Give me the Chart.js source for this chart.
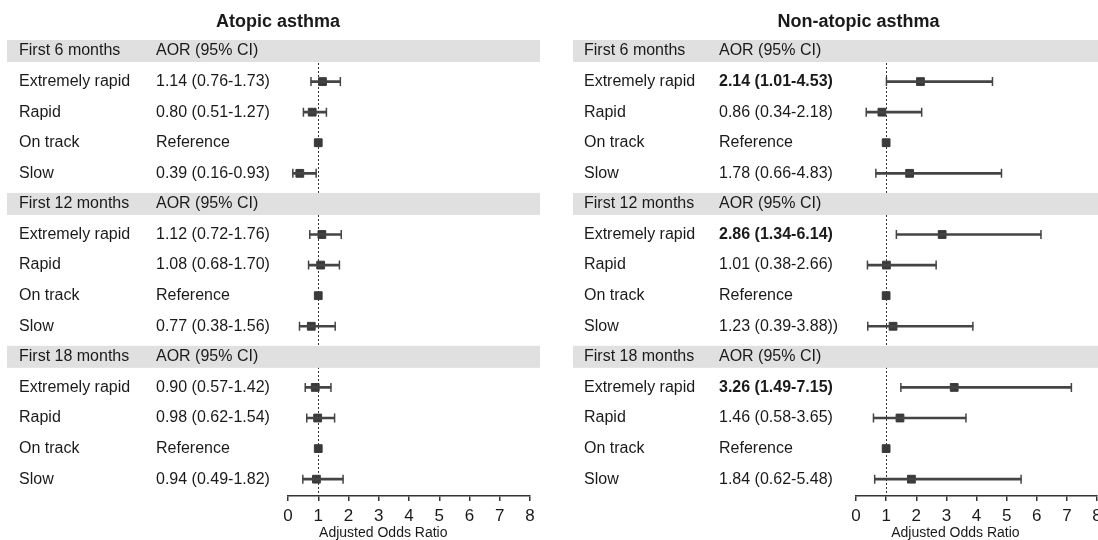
<!DOCTYPE html>
<html>
<head>
<meta charset="utf-8">
<script src="https://cdn.jsdelivr.net/npm/chart.js@4.4.0/dist/chart.umd.min.js"></script>
<style>
  html, body { margin: 0; padding: 0; background: #fff; overflow: hidden; }
  #wrap { position: relative; width: 1098px; height: 540px; overflow: hidden; }
  #atopic { position: absolute; left: 0; top: 0; }
  #nonAtopic { position: absolute; left: 549px; top: 0; }
</style>
</head>
<body>
<div id="wrap">
  <canvas id="atopic" width="549" height="540"></canvas>
  <canvas id="nonAtopic" width="595" height="540"></canvas>
</div>
<script>
const periods = ['First 6 months', 'First 12 months', 'First 18 months'];
const groups = ['Extremely rapid', 'Rapid', 'On track', 'Slow'];
const xTicks = [0, 1, 2, 3, 4, 5, 6, 7, 8];

// Atopic asthma, 6 / 12 / 18 months x 4 groups
const atopicAor  = [1.14, 0.80, 1, 0.39,  1.12, 1.08, 1, 0.77,  0.90, 0.98, 1, 0.94];
const atopicLow  = [0.76, 0.51, null, 0.16,  0.72, 0.68, null, 0.38,  0.57, 0.62, null, 0.49];
const atopicHigh = [1.73, 1.27, null, 0.93,  1.76, 1.70, null, 1.56,  1.42, 1.54, null, 1.82];
const atopicText = [
  '1.14 (0.76-1.73)', '0.80 (0.51-1.27)', 'Reference', '0.39 (0.16-0.93)',
  '1.12 (0.72-1.76)', '1.08 (0.68-1.70)', 'Reference', '0.77 (0.38-1.56)',
  '0.90 (0.57-1.42)', '0.98 (0.62-1.54)', 'Reference', '0.94 (0.49-1.82)'
];
const atopicBold = [false, false, false, false, false, false, false, false, false, false, false, false];

// Non-atopic asthma
const nonAtopicAor  = [2.14, 0.86, 1, 1.78,  2.86, 1.01, 1, 1.23,  3.26, 1.46, 1, 1.84];
const nonAtopicLow  = [1.01, 0.34, null, 0.66,  1.34, 0.38, null, 0.39,  1.49, 0.58, null, 0.62];
const nonAtopicHigh = [4.53, 2.18, null, 4.83,  6.14, 2.66, null, 3.88,  7.15, 3.65, null, 5.48];
const nonAtopicText = [
  '2.14 (1.01-4.53)', '0.86 (0.34-2.18)', 'Reference', '1.78 (0.66-4.83)',
  '2.86 (1.34-6.14)', '1.01 (0.38-2.66)', 'Reference', '1.23 (0.39-3.88))',
  '3.26 (1.49-7.15)', '1.46 (0.58-3.65)', 'Reference', '1.84 (0.62-5.48)'
];
const nonAtopicBold = [true, false, false, false, true, false, false, false, true, false, false, false];

const FONT = '"Liberation Sans", Arial, Helvetica, sans-serif';
const INK = '#1a1a1a';
const MARK = '#3a3a3a';

// row 0 = first header, then 4 groups, next header at 5 ...
function rowOf(k) {
  return Math.floor(k / 4) * 5 + 1 + (k % 4);
}

// headers, row texts, grey bands and the dotted line at 1
const forestText = {
  id: 'forestText',
  beforeDatasetsDraw(chart, args, opts) {
    const { ctx, chartArea, scales: { x, y } } = chart;
    ctx.save();

    const x1 = Math.round(x.getPixelForValue(1)) + 0.5;
    ctx.strokeStyle = '#333';
    ctx.lineWidth = 1;
    ctx.setLineDash([2, 2]);
    ctx.beginPath();
    ctx.moveTo(x1, y.getPixelForValue(0));
    ctx.lineTo(x1, chartArea.bottom);
    ctx.stroke();
    ctx.setLineDash([]);

    ctx.fillStyle = INK;
    ctx.textAlign = 'center';
    ctx.textBaseline = 'middle';
    ctx.font = 'bold 18px ' + FONT;
    ctx.fillText(opts.title, (opts.bandLeft + chart.width) / 2, 22);

    ctx.textAlign = 'left';
    periods.forEach((p, i) => {
      const yc = y.getPixelForValue(i * 5);
      ctx.fillStyle = '#e0e0e0';
      ctx.fillRect(opts.bandLeft, yc - 11, chart.width - opts.bandLeft - opts.bandRightGap, 22);
      ctx.fillStyle = INK;
      ctx.font = '16px ' + FONT;
      ctx.fillText(p, opts.labelX, yc);
      ctx.fillText('AOR (95% CI)', opts.aorX, yc);
    });

    opts.text.forEach((t, k) => {
      const yc = y.getPixelForValue(rowOf(k));
      ctx.font = '16px ' + FONT;
      ctx.fillText(groups[k % 4], opts.labelX, yc);
      ctx.font = (opts.bold[k] ? 'bold ' : '') + '16px ' + FONT;
      ctx.fillText(t, opts.aorX, yc);
    });

    ctx.textAlign = 'center';
    ctx.font = '14px ' + FONT;
    ctx.fillText('Adjusted Odds Ratio', x.getPixelForValue(opts.axisTitleAt), 533);
    ctx.restore();
  }
};

function makeForest(canvasId, aor, low, high, text, bold, panel) {
  const points = aor.map((v, k) => ({ x: v, y: rowOf(k) }));
  const bars = [];
  const caps = [];
  aor.forEach((v, k) => {
    if (low[k] === null) return;
    bars.push({ x: [low[k], high[k]], y: rowOf(k) });
    caps.push({ x: low[k], y: rowOf(k) }, { x: high[k], y: rowOf(k) });
  });

  return new Chart(document.getElementById(canvasId), {
    type: 'scatter',
    data: {
      datasets: [
        {
          type: 'bar',
          indexAxis: 'y',
          data: bars,
          backgroundColor: '#444',
          borderWidth: 0,
          barThickness: 2
        },
        {
          data: caps,
          pointStyle: 'line',
          rotation: 90,
          radius: 4.5,
          borderWidth: 1.5,
          borderColor: '#444'
        },
        {
          data: points,
          pointStyle: 'rect',
          radius: 5.5,
          borderWidth: 1,
          backgroundColor: MARK,
          borderColor: MARK
        }
      ]
    },
    options: {
      responsive: false,
      animation: false,
      layout: {
        padding: { left: panel.left, right: panel.right, top: 35.7, bottom: 8.6 }
      },
      scales: {
        x: {
          type: 'linear',
          min: 0,
          max: 8,
          offset: false,
          afterBuildTicks: s => { s.ticks = xTicks.map(v => ({ value: v })); },
          ticks: { color: INK, font: { size: 17, family: FONT }, padding: 5, maxRotation: 0, autoSkip: false },
          grid: { display: true, drawOnChartArea: false, drawTicks: true, tickLength: 5, color: '#333', lineWidth: 1.5 },
          border: { display: true, color: '#333', width: 1.5 }
        },
        y: {
          type: 'linear',
          reverse: true,
          min: -0.5,
          max: 14.55,
          offset: false,
          display: false
        }
      },
      plugins: {
        legend: { display: false },
        tooltip: { enabled: false },
        forestText: {
          title: panel.title,
          bandLeft: panel.bandLeft,
          bandRightGap: panel.bandRightGap,
          labelX: panel.labelX,
          aorX: panel.aorX,
          axisTitleAt: panel.axisTitleAt,
          text: text,
          bold: bold
        }
      }
    },
    plugins: [forestText]
  });
}

makeForest('atopic', atopicAor, atopicLow, atopicHigh, atopicText, atopicBold, {
  title: 'Atopic asthma', left: 288, right: 19,
  bandLeft: 7, bandRightGap: 9, labelX: 19, aorX: 156, axisTitleAt: 3.15
});

makeForest('nonAtopic', nonAtopicAor, nonAtopicLow, nonAtopicHigh, nonAtopicText, nonAtopicBold, {
  title: 'Non-atopic asthma', left: 307, right: 47,
  bandLeft: 24, bandRightGap: 0, labelX: 35, aorX: 170, axisTitleAt: 3.3
});
</script>
</body>
</html>
